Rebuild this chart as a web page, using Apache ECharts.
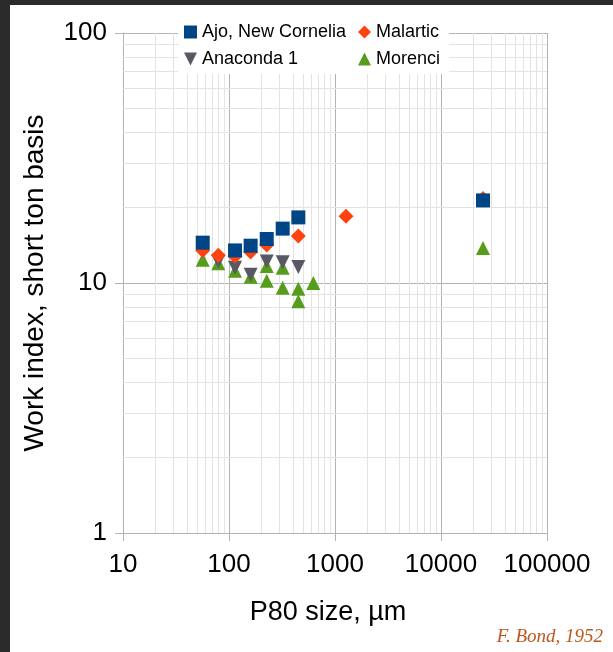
<!DOCTYPE html>
<html>
<head>
<meta charset="utf-8">
<script src="https://cdn.jsdelivr.net/npm/echarts@6/dist/echarts.min.js"></script>
<style>
  html, body { margin: 0; padding: 0; background: #2b2b2b; width: 613px; height: 652px; overflow: hidden; }
  #chart { position: absolute; left: 10px; top: 5px; width: 603px; height: 647px; background: #ffffff; }
  #credit { position: absolute; right: 10px; top: 625px; line-height: 22px; font-family: 'Liberation Serif', serif; font-style: italic; font-size: 19px; color: #c0561c; }
</style>
</head>
<body>
<div id="chart"></div>
<div id="credit">F. Bond, 1952</div>
<script>
// P80 size (µm) and work index (short ton basis) for each ore
const ajoX = [56.5, 114, 160, 227, 321, 451, 24900];
const ajoY = [14.5, 13.5, 14.1, 15.0, 16.5, 18.3, 21.4];

const malarticX = [56.5, 79.3, 114, 160, 227, 451, 1270, 24900];
const malarticY = [13.5, 12.9, 12.8, 13.3, 14.2, 15.4, 18.5, 21.8];

const anacondaX = [79.3, 114, 160, 227, 321, 451];
const anacondaY = [12.2, 11.5, 10.8, 12.2, 12.1, 11.6];

const morenciX = [56.5, 79.3, 114, 160, 227, 227, 321, 321, 451, 451, 624, 24900];
const morenciY = [12.4, 12.0, 11.2, 10.6, 11.7, 10.2, 11.5, 9.57, 9.48, 8.46, 10.0, 13.8];

const xTickLabels = ['10', '100', '1000', '10000', '100000'];
const yTickLabels = ['1', '10', '100'];

const FONT = 'Liberation Sans';
const DOWN_TRIANGLE = 'path://M0,0L10,0L5,10Z';

function pairs(xs, ys) { return xs.map((x, i) => [x, ys[i]]); }

// minor log gridlines at 2..9 of every decade
function minorSteps(lo, hi) {
  const out = [];
  for (let d = lo; d < hi; d *= 10) {
    for (let k = 2; k <= 9; k++) out.push(k * d);
  }
  return out;
}
const minorX = minorSteps(10, 100000);
const minorY = minorSteps(1, 100);

const chart = echarts.init(document.getElementById('chart'), null, { renderer: 'canvas' });

const legendText = { fontFamily: FONT, fontSize: 18, color: '#000', lineHeight: 20 };

chart.setOption({
  animation: false,
  backgroundColor: '#ffffff',
  textStyle: { fontFamily: FONT },
  grid: { left: 113, top: 28, width: 424, height: 500 },
  legend: [
    {
      orient: 'vertical', left: 168, top: 13, z: 10,
      padding: [4, 9, 5, 6], itemGap: 7, itemWidth: 13, itemHeight: 13,
      backgroundColor: '#ffffff', textStyle: legendText,
      data: [
        { name: 'Ajo, New Cornelia', icon: 'rect' },
        { name: 'Anaconda 1', icon: DOWN_TRIANGLE }
      ]
    },
    {
      orient: 'vertical', left: 344, top: 13, z: 10,
      padding: [4, 9, 5, 4], itemGap: 7, itemWidth: 13, itemHeight: 13,
      backgroundColor: '#ffffff', textStyle: legendText,
      data: [
        { name: 'Malartic', icon: 'diamond' },
        { name: 'Morenci', icon: 'triangle' }
      ]
    }
  ],
  xAxis: {
    type: 'log', logBase: 10, min: 10, max: 100000, splitNumber: 4,
    name: 'P80 size, µm', nameLocation: 'middle', nameGap: 66,
    nameTextStyle: { fontFamily: FONT, fontSize: 27, color: '#000', padding: [0, 14, 0, 0] },
    axisLine: { show: true, lineStyle: { color: '#b3b3b3', width: 1 } },
    axisTick: { show: true, length: 8, lineStyle: { color: '#b3b3b3' } },
    axisLabel: {
      fontFamily: FONT, fontSize: 26, color: '#000', margin: 19,
      formatter: v => xTickLabels.find(t => Math.abs(Number(t) - v) < 1e-6 * v) || ''
    },
    splitLine: { show: true, lineStyle: { color: '#b3b3b3', width: 1 } }
  },
  yAxis: {
    type: 'log', logBase: 10, min: 1, max: 100, splitNumber: 2,
    name: 'Work index, short ton basis', nameLocation: 'middle', nameGap: 74,
    nameTextStyle: { fontFamily: FONT, fontSize: 28, color: '#000' },
    axisLine: { show: true, lineStyle: { color: '#b3b3b3', width: 1 } },
    axisTick: { show: true, length: 8, lineStyle: { color: '#b3b3b3' } },
    axisLabel: {
      fontFamily: FONT, fontSize: 26, color: '#000', margin: 16,
      formatter: v => yTickLabels.find(t => Math.abs(Number(t) - v) < 1e-6 * v) || ''
    },
    splitLine: { show: true, lineStyle: { color: '#b3b3b3', width: 1 } }
  },
  series: [
    {
      // minor gridlines
      type: 'scatter', data: [], z: 1, silent: true,
      markLine: {
        z: 1, silent: true, symbol: 'none', animation: false,
        label: { show: false },
        lineStyle: { color: '#e3e3e3', width: 1, type: 'solid' },
        emphasis: { disabled: true },
        data: minorX.map(v => ({ xAxis: v })).concat(minorY.map(v => ({ yAxis: v })))
      }
    },
    {
      name: 'Morenci', type: 'scatter', z: 2,
      symbol: 'triangle', symbolSize: 14,
      itemStyle: { color: '#579d1c', opacity: 1 },
      data: pairs(morenciX, morenciY)
    },
    {
      name: 'Anaconda 1', type: 'scatter', z: 2,
      symbol: DOWN_TRIANGLE, symbolSize: 14,
      itemStyle: { color: '#595964', opacity: 1 },
      data: pairs(anacondaX, anacondaY)
    },
    {
      name: 'Malartic', type: 'scatter', z: 2,
      symbol: 'diamond', symbolSize: 15,
      itemStyle: { color: '#ff420e', opacity: 1 },
      data: pairs(malarticX, malarticY)
    },
    {
      name: 'Ajo, New Cornelia', type: 'scatter', z: 2,
      symbol: 'rect', symbolSize: 14,
      itemStyle: { color: '#004586', opacity: 1 },
      data: pairs(ajoX, ajoY)
    }
  ]
});
</script>
</body>
</html>
